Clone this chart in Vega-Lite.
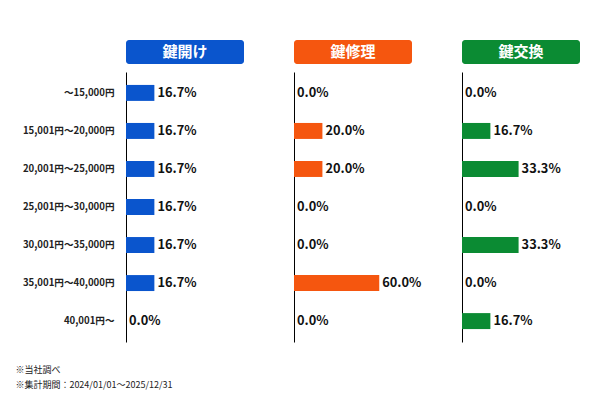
{
  "$schema": "https://vega.github.io/schema/vega-lite/v6.json",
  "background": "#ffffff",
  "padding": {"left": 15, "top": 40, "right": 5, "bottom": 5},
  "config": {
    "font": "Noto Sans CJK JP",
    "view": {"stroke": null},
    "axis": {"domainColor": "#000000", "domainWidth": 1}
  },
  "datasets": {
    "fees": [
      {"type": "鍵開け", "range": "〜15,000円", "value": 0.167},
      {"type": "鍵開け", "range": "15,001円〜20,000円", "value": 0.167},
      {"type": "鍵開け", "range": "20,001円〜25,000円", "value": 0.167},
      {"type": "鍵開け", "range": "25,001円〜30,000円", "value": 0.167},
      {"type": "鍵開け", "range": "30,001円〜35,000円", "value": 0.167},
      {"type": "鍵開け", "range": "35,001円〜40,000円", "value": 0.167},
      {"type": "鍵開け", "range": "40,001円〜", "value": 0},
      {"type": "鍵修理", "range": "〜15,000円", "value": 0},
      {"type": "鍵修理", "range": "15,001円〜20,000円", "value": 0.2},
      {"type": "鍵修理", "range": "20,001円〜25,000円", "value": 0.2},
      {"type": "鍵修理", "range": "25,001円〜30,000円", "value": 0},
      {"type": "鍵修理", "range": "30,001円〜35,000円", "value": 0},
      {"type": "鍵修理", "range": "35,001円〜40,000円", "value": 0.6},
      {"type": "鍵修理", "range": "40,001円〜", "value": 0},
      {"type": "鍵交換", "range": "〜15,000円", "value": 0},
      {"type": "鍵交換", "range": "15,001円〜20,000円", "value": 0.167},
      {"type": "鍵交換", "range": "20,001円〜25,000円", "value": 0.333},
      {"type": "鍵交換", "range": "25,001円〜30,000円", "value": 0},
      {"type": "鍵交換", "range": "30,001円〜35,000円", "value": 0.333},
      {"type": "鍵交換", "range": "35,001円〜40,000円", "value": 0},
      {"type": "鍵交換", "range": "40,001円〜", "value": 0.167}
    ]
  },
  "title": {
    "text": ["※当社調べ", "※集計期間：2024/01/01〜2025/12/31"],
    "orient": "bottom",
    "anchor": "start",
    "fontSize": 9,
    "fontWeight": "normal",
    "color": "#222222",
    "lineHeight": 15,
    "offset": 24,
    "dx": -7
  },
  "spacing": 38,
  "hconcat": [
    {
      "bounds": "flush",
      "spacing": 8,
      "vconcat": [
        {
          "data": {"values": [{"label": "鍵開け"}]},
          "width": 118,
          "height": 24,
          "layer": [
            {"mark": {"type": "bar", "color": "#0a55cd", "cornerRadius": 3}, "encoding": {}},
            {"mark": {"type": "text", "color": "#ffffff", "fontWeight": "bold", "fontSize": 15}, "encoding": {"text": {"field": "label"}}}
          ]
        },
        {
          "data": {"name": "fees"},
          "transform": [{"filter": "datum.type === '鍵開け'"}],
          "width": 130,
          "height": 270,
          "encoding": {
            "y": {
              "field": "range",
              "type": "nominal",
              "sort": null,
              "scale": {"paddingInner": 0.58, "paddingOuter": 0.34},
              "axis": {"title": null, "ticks": false, "labelPadding": 12, "labelFontSize": 9.6, "labelFontWeight": "bold", "labelColor": "#222222"}
            },
            "x": {"field": "value", "type": "quantitative", "scale": {"domain": [0, 0.765]}, "axis": null}
          },
          "layer": [
            {"mark": {"type": "bar", "color": "#0a55cd"}},
            {"mark": {"type": "text", "align": "left", "baseline": "middle", "dx": 3, "fontSize": 12.8, "fontWeight": "bold", "color": "#111111"}, "encoding": {"text": {"field": "value", "format": ".1%"}}}
          ]
        }
      ]
    },
    {
      "bounds": "flush",
      "spacing": 8,
      "vconcat": [
        {
          "data": {"values": [{"label": "鍵修理"}]},
          "width": 118,
          "height": 24,
          "layer": [
            {"mark": {"type": "bar", "color": "#f5560f", "cornerRadius": 3}, "encoding": {}},
            {"mark": {"type": "text", "color": "#ffffff", "fontWeight": "bold", "fontSize": 15}, "encoding": {"text": {"field": "label"}}}
          ]
        },
        {
          "data": {"name": "fees"},
          "transform": [{"filter": "datum.type === '鍵修理'"}],
          "width": 130,
          "height": 270,
          "encoding": {
            "y": {
              "field": "range",
              "type": "nominal",
              "sort": null,
              "scale": {"paddingInner": 0.58, "paddingOuter": 0.34},
              "axis": {"title": null, "ticks": false, "labels": false}
            },
            "x": {"field": "value", "type": "quantitative", "scale": {"domain": [0, 0.915]}, "axis": null}
          },
          "layer": [
            {"mark": {"type": "bar", "color": "#f5560f"}},
            {"mark": {"type": "text", "align": "left", "baseline": "middle", "dx": 3, "fontSize": 12.8, "fontWeight": "bold", "color": "#111111"}, "encoding": {"text": {"field": "value", "format": ".1%"}}}
          ]
        }
      ]
    },
    {
      "bounds": "flush",
      "spacing": 8,
      "vconcat": [
        {
          "data": {"values": [{"label": "鍵交換"}]},
          "width": 118,
          "height": 24,
          "layer": [
            {"mark": {"type": "bar", "color": "#0b8b33", "cornerRadius": 3}, "encoding": {}},
            {"mark": {"type": "text", "color": "#ffffff", "fontWeight": "bold", "fontSize": 15}, "encoding": {"text": {"field": "label"}}}
          ]
        },
        {
          "data": {"name": "fees"},
          "transform": [{"filter": "datum.type === '鍵交換'"}],
          "width": 130,
          "height": 270,
          "encoding": {
            "y": {
              "field": "range",
              "type": "nominal",
              "sort": null,
              "scale": {"paddingInner": 0.58, "paddingOuter": 0.34},
              "axis": {"title": null, "ticks": false, "labels": false}
            },
            "x": {"field": "value", "type": "quantitative", "scale": {"domain": [0, 0.765]}, "axis": null}
          },
          "layer": [
            {"mark": {"type": "bar", "color": "#0b8b33"}},
            {"mark": {"type": "text", "align": "left", "baseline": "middle", "dx": 3, "fontSize": 12.8, "fontWeight": "bold", "color": "#111111"}, "encoding": {"text": {"field": "value", "format": ".1%"}}}
          ]
        }
      ]
    }
  ]
}
